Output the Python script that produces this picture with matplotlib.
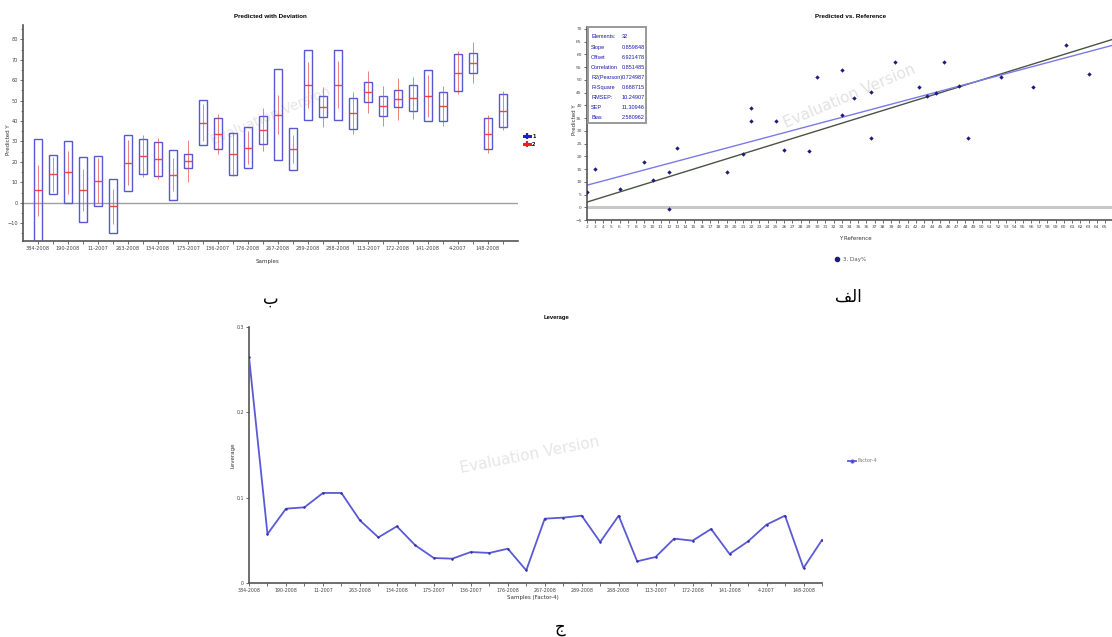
import matplotlib
matplotlib.use("Agg")
import matplotlib.pyplot as plt
from matplotlib.lines import Line2D
from matplotlib.patches import Rectangle

W, H = 1112, 637

# ── sample names (every second sample is labelled) ─────────────────────────
SAMPLE_LABELS = [
    "384-2008", "190-2008", "11-2007", "263-2008", "134-2008", "175-2007",
    "136-2007", "176-2008", "267-2008", "289-2008", "288-2008", "113-2007",
    "172-2008", "141-2008", "4-2007", "148-2008",
]

# ── predicted with deviation ───────────────────────────────────────────────
PRED_Y = [
    6.2, 14.0, 14.9, 6.3, 10.8, -1.8, 19.5, 22.8, 21.5, 13.8, 20.5, 39.2,
    33.8, 24.0, 27.0, 35.7, 43.2, 26.4, 57.7, 47.1, 57.7, 43.9, 54.1, 47.4,
    51.0, 51.2, 52.4, 47.2, 63.7, 68.6, 33.9, 45.0,
]
DEV_1 = [
    25.2, 9.6, 15.2, 15.9, 12.2, 13.2, 13.8, 8.6, 8.3, 12.2, 3.3, 11.0,
    7.7, 10.2, 10.2, 6.8, 22.1, 10.4, 17.0, 5.2, 17.0, 7.6, 5.0, 4.9,
    4.1, 6.3, 12.5, 7.1, 9.0, 4.9, 7.8, 8.1,
]
DEV_2 = [
    12.5, 8.5, 10.5, 10.2, 11.0, 8.5, 11.0, 10.2, 10.0, 8.0, 10.1, 9.0,
    9.8, 10.8, 8.0, 10.6, 9.4, 7.0, 11.4, 9.8, 11.5, 10.2, 10.2, 9.8,
    10.3, 10.2, 10.2, 9.8, 10.7, 10.2, 9.3, 9.5,
]

# ── predicted vs. reference ────────────────────────────────────────────────
REF_Y = [
    2, 3, 6, 9, 10, 12, 12, 13, 19, 21, 22, 22, 25, 26, 29, 30,
    33, 33, 34.5, 36.5, 36.5, 39.5, 42.4, 43.4, 45.4, 47.3, 48.3, 52.3,
    56.2, 60.2, 63.1, 44.5,
]
PRED_VS_REF = [
    6.1, 15.2, 7.2, 17.6, 10.8, 13.9, -0.8, 23.3, 13.9, 21.0, 39.1, 33.9,
    33.9, 22.6, 22.0, 51.0, 53.9, 36.4, 43.0, 45.1, 27.1, 57.2, 47.1, 43.7,
    57.2, 47.6, 27.3, 51.3, 47.1, 63.8, 52.3, 45.0,
]
STAT_NAMES = ["Elements:", "Slope", "Offset", "Correlation", "R2(Pearson)",
              "R-Square", "RMSEP:", "SEP", "Bias"]
STAT_VALUES = ["32", "0.859848", "6.921478", "0.851485", "0.724987",
               "0.688715", "10.24907", "11.30946", "2.580962"]
SLOPE, OFFSET = 0.859848, 6.921478

# ── leverage ───────────────────────────────────────────────────────────────
LEVERAGE = [
    0.265, 0.0574, 0.0871, 0.0887, 0.1055, 0.1055, 0.0734, 0.0535, 0.0664,
    0.0441, 0.0293, 0.0285, 0.0363, 0.0352, 0.0402, 0.0148, 0.0754, 0.0766,
    0.0789, 0.048, 0.0789, 0.0254, 0.0305, 0.052, 0.0496, 0.0633, 0.034,
    0.0488, 0.0684, 0.0789, 0.0176, 0.0504,
]

BLUE_BOX = "#5858d4"
RED = "#e84848"
NAVY = "#1c1c7c"
LINE_BLUE = "#5a5ad6"
WM = "#e6e6e6"
NARROW = ["Liberation Sans Narrow", "Liberation Sans", "DejaVu Sans"]


def fx(px):
    return px / W


def fy(py):
    return 1 - py / H


def axes_px(fig, left, top, right, bottom):
    return fig.add_axes([fx(left), fy(bottom), (right - left) / W, (bottom - top) / H])


def style_axes(ax):
    for s in ("top", "right"):
        ax.spines[s].set_visible(False)
    for s in ("left", "bottom"):
        ax.spines[s].set_color("#555555")
        ax.spines[s].set_linewidth(1.2)
    ax.tick_params(length=2, width=0.6, color="#555555", labelsize=3.6,
                   labelcolor="#444444", pad=1.5)


fig = plt.figure(figsize=(W / 100, H / 100), dpi=100)
fig.patch.set_facecolor("white")

# ── (ب) Predicted with Deviation ──────────────────────────────────────────
ax1 = axes_px(fig, 23, 25, 518, 241)
style_axes(ax1)
xs = list(range(1, len(PRED_Y) + 1))
ax1.bar(xs, [2 * d for d in DEV_1], bottom=[c - d for c, d in zip(PRED_Y, DEV_1)],
        width=0.5, fill=False, edgecolor=BLUE_BOX, linewidth=1.0, zorder=3)
ax1.vlines(xs, [c - d for c, d in zip(PRED_Y, DEV_2)],
           [c + d for c, d in zip(PRED_Y, DEV_2)], color=RED, linewidth=0.6,
           alpha=0.8, zorder=4)
ax1.hlines(PRED_Y, [x - 0.25 for x in xs], [x + 0.25 for x in xs], color=RED,
           linewidth=1.0, zorder=4)
ax1.axhline(0, color="#a0a0a0", linewidth=1.0, zorder=1)
ax1.set_xlim(0, 33)
ax1.set_ylim(-18.7, 87)
ax1.set_yticks(range(-10, 90, 10))
ax1.set_yticks(range(-15, 90, 5), minor=True)
ax1.tick_params(which="minor", length=1.2, width=0.5, color="#555555")
ax1.set_xticks(xs)
ax1.set_xticklabels([SAMPLE_LABELS[i // 2] if i % 2 == 0 else "" for i in range(len(xs))])
ax1.text(0.5, 0.58, "Evaluation Version", transform=ax1.transAxes, fontsize=10,
         rotation=23, ha="center", va="center", color=WM, zorder=0)
fig.text(fx(270), fy(17), "Predicted with Deviation", fontsize=4.5, fontweight="bold",
         ha="center", va="center", family=NARROW)
fig.text(fx(9), fy(140), "Predicted Y", fontsize=4, rotation=90, ha="center",
         va="center", color="#333333")
fig.text(fx(268), fy(262), "Samples", fontsize=4, ha="center", va="center",
         color="#333333")
leg1 = fig.legend(
    handles=[Line2D([], [], color="#2020c0", marker="+", lw=2, markersize=4, mew=1.5),
             Line2D([], [], color="#e82020", marker="+", lw=2, markersize=4, mew=1.5)],
    labels=["1", "2"], loc="upper left", bbox_to_anchor=(fx(522), fy(132)),
    frameon=False, fontsize=4, handlelength=1.0, handletextpad=0.4,
    labelspacing=0.5, borderaxespad=0)

# ── (الف) Predicted vs. Reference ─────────────────────────────────────────
ax2 = axes_px(fig, 586.7, 26.7, 1112, 220)
style_axes(ax2)
ax2.axhline(0, color="#c8c8c8", linewidth=2.2, zorder=1)
line_x = [2, 66]
ax2.plot(line_x, line_x, color="#4a5444", linewidth=1.0, zorder=2)
ax2.plot(line_x, [SLOPE * x + OFFSET for x in line_x], color="#7a7ae8",
         linewidth=1.0, zorder=2)
ax2.scatter(REF_Y, PRED_VS_REF, marker="D", s=5, color=NAVY, zorder=5,
            linewidths=0)
ax2.set_xlim(2, 65.85)
ax2.set_ylim(-5, 70.9)
ax2.set_xticks(range(2, 66))
ax2.set_yticks(range(-5, 71, 5))
ax2.tick_params(labelsize=3.2)
ax2.text(0.5, 0.64, "Evaluation Version", transform=ax2.transAxes, fontsize=11,
         rotation=23, ha="center", va="center", color="#e2e2e2", zorder=0)
fig.text(fx(851), fy(17), "Predicted vs. Reference", fontsize=4.5,
         fontweight="bold", ha="center", va="center", family=NARROW)
fig.text(fx(575), fy(120), "Predicted Y", fontsize=4, rotation=90, ha="center",
         va="center", color="#333333")
fig.text(fx(855), fy(239), "Y Reference", fontsize=4, ha="center", va="center",
         color="#333333")
fig.add_artist(Rectangle((fx(588), fy(123)), 58 / W, 96 / H,
                         transform=fig.transFigure, facecolor="white",
                         edgecolor="#9a9a9a", linewidth=1.4, zorder=6))
for i, (name, val) in enumerate(zip(STAT_NAMES, STAT_VALUES)):
    y = fy(37 + i * 10.1)
    fig.text(fx(591), y, name, fontsize=4.0, color="#1a1aa8", va="center",
             family=NARROW, zorder=7)
    fig.text(fx(622), y, val, fontsize=4.0, color="#1a1aa8", va="center",
             family=NARROW, zorder=7)
fig.legend(handles=[Line2D([], [], color=NAVY, marker="o", lw=0, markersize=3)],
           labels=["3. Day%"], loc="center left", bbox_to_anchor=(fx(832), fy(259)),
           frameon=False, fontsize=4, handlelength=1.0, handletextpad=0.6,
           borderaxespad=0, labelcolor="#555555")
fig.add_artist(leg1)

# ── (ج) Leverage ──────────────────────────────────────────────────────────
ax3 = axes_px(fig, 249, 327, 822, 583)
style_axes(ax3)
lx = list(range(len(LEVERAGE)))
ax3.plot(lx, LEVERAGE, color=LINE_BLUE, linewidth=1.3, marker="o",
         markersize=1.8, markerfacecolor="#3030a0", markeredgewidth=0, zorder=3)
ax3.set_xlim(0, 31)
ax3.set_ylim(0, 0.3)
ax3.set_yticks([0, 0.1, 0.2, 0.3])
ax3.set_yticklabels(["0", "0.1", "0.2", "0.3"])
ax3.set_xticks(lx)
ax3.set_xticklabels([SAMPLE_LABELS[i // 2] if i % 2 == 0 else "" for i in lx])
ax3.tick_params(labelsize=3.4)
ax3.text(0.49, 0.5, "Evaluation Version", transform=ax3.transAxes, fontsize=11,
         rotation=11, ha="center", va="center", color=WM, zorder=0)
fig.text(fx(557), fy(318), "Leverage", fontsize=4.2, fontweight="bold",
         ha="center", va="center", family=NARROW)
fig.text(fx(233), fy(455), "Leverage", fontsize=4, rotation=90, ha="center",
         va="center", color="#333333")
fig.text(fx(533), fy(597), "Samples (Factor-4)", fontsize=4, ha="center",
         va="center", color="#333333")
fig.legend(
    handles=[Line2D([], [], color=LINE_BLUE, marker="o", lw=1.3, markersize=2,
                    markerfacecolor="#3030a0")],
    labels=["Factor-4"], loc="center left", bbox_to_anchor=(fx(846), fy(461)),
    frameon=False, fontsize=3.5, handlelength=1.6, handletextpad=0.4,
    borderaxespad=0, labelcolor="#777777")

# ── panel captions (Arabic presentation forms, drawn left to right) ───────
ARABIC = ["DejaVu Sans", "Noto Sans"]
fig.text(fx(271), fy(299), "\u0628", fontsize=12, ha="center", va="center",
         family=ARABIC)
fig.text(fx(848), fy(297), "\ufed2\ufedf\ufe8d", fontsize=12, ha="center",
         va="center", family=ARABIC)
fig.text(fx(560), fy(627), "\u062c", fontsize=12, ha="center", va="center",
         family=ARABIC)

fig.savefig("out.png", dpi=100)
